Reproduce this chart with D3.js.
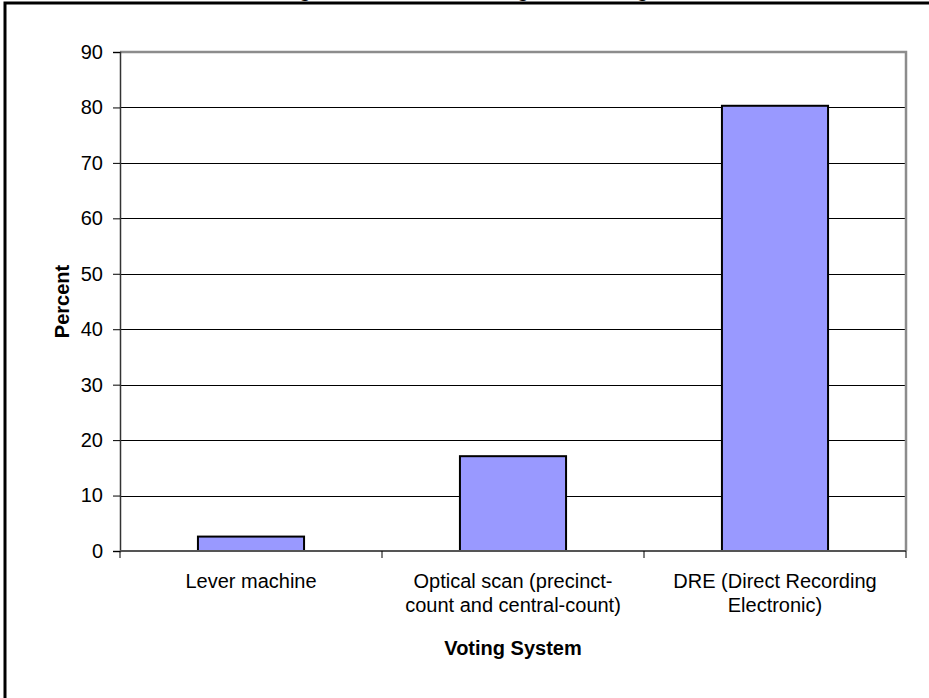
<!DOCTYPE html>
<html>
<head>
<meta charset="utf-8">
<script src="https://cdn.jsdelivr.net/npm/d3@7"></script>
<style>
  html, body { margin: 0; padding: 0; background: #fff; overflow: hidden; }
  svg { display: block; font-family: "Liberation Sans", Arial, sans-serif; }
</style>
</head>
<body>
<svg id="chart" width="929" height="698"></svg>
<script>
// Share of ballots by voting system (percent)
const categories = [
  ["Lever machine"],
  ["Optical scan (precinct-", "count and central-count)"],
  ["DRE (Direct Recording", "Electronic)"]
];
const values = [2.6, 17.1, 80.3];
const yTicks = [0, 10, 20, 30, 40, 50, 60, 70, 80, 90];
const titleText = "Percentage of Ballots Cast Using Each Voting Method";
const xTitle = "Voting System";
const yTitle = "Percent";

const svg = d3.select("#chart");
const W = 929, H = 698;
const plot = { left: 120, right: 906, top: 52, bottom: 551 };
const FONT = 20;

// outer frame (extends past the bottom and right edges)
svg.append("rect")
  .attr("x", 5).attr("y", 3)
  .attr("width", W + 20).attr("height", H + 20)
  .attr("fill", "#fff").attr("stroke", "#000").attr("stroke-width", 3);

// chart title, sitting above the frame
svg.append("text")
  .attr("x", 470).attr("y", -3)
  .attr("text-anchor", "middle")
  .attr("font-size", FONT).attr("font-weight", "bold")
  .text(titleText);

const x = d3.scaleBand()
  .domain(d3.range(categories.length))
  .range([plot.left, plot.right])
  .paddingInner(0.595).paddingOuter(0.2975);

const band = d3.scaleBand()
  .domain(d3.range(categories.length))
  .range([plot.left, plot.right]);

const y = d3.scaleLinear().domain([0, 90]).range([plot.bottom, plot.top]);

// gridlines
svg.append("g").selectAll("line")
  .data(yTicks.filter(t => t > 0 && t < 90))
  .join("line")
  .attr("x1", plot.left).attr("x2", plot.right)
  .attr("y1", d => Math.round(y(d)) + 0.5).attr("y2", d => Math.round(y(d)) + 0.5)
  .attr("stroke", "#000").attr("stroke-width", 1);

// plot border, top and right
svg.append("path")
  .attr("d", `M${plot.left},${y(90)}H${plot.right}V${plot.bottom}`)
  .attr("fill", "none").attr("stroke", "#8c8c8c").attr("stroke-width", 2.5);

// bars
svg.append("g").selectAll("rect")
  .data(values)
  .join("rect")
  .attr("x", (d, i) => x(i))
  .attr("y", d => y(d))
  .attr("width", x.bandwidth())
  .attr("height", d => y(0) - y(d))
  .attr("fill", "#9999ff")
  .attr("stroke", "#000").attr("stroke-width", 2);

// y axis
const yAxis = svg.append("g")
  .attr("transform", `translate(${plot.left},0)`)
  .call(d3.axisLeft(y).tickValues(yTicks).tickSize(7).tickPadding(10));
yAxis.select(".domain").attr("stroke", "#333").attr("stroke-width", 1.5);
yAxis.selectAll(".tick line").attr("stroke", "#000");
yAxis.selectAll(".tick text")
  .attr("font-size", FONT).attr("fill", "#000")
  .attr("font-family", "Liberation Sans, Arial, sans-serif");

// x axis line and category separators
svg.append("line")
  .attr("x1", plot.left).attr("x2", plot.right)
  .attr("y1", plot.bottom).attr("y2", plot.bottom)
  .attr("stroke", "#555").attr("stroke-width", 2);
svg.append("g").selectAll("line")
  .data(d3.range(categories.length + 1))
  .join("line")
  .attr("x1", i => i < categories.length ? band(i) : plot.right)
  .attr("x2", i => i < categories.length ? band(i) : plot.right)
  .attr("y1", plot.bottom).attr("y2", plot.bottom + 7)
  .attr("stroke", "#000").attr("stroke-width", 1);

// category labels
const labels = svg.append("g").selectAll("text")
  .data(categories)
  .join("text")
  .attr("x", (d, i) => band(i) + band.bandwidth() / 2)
  .attr("y", 588)
  .attr("text-anchor", "middle")
  .attr("font-size", FONT);
labels.selectAll("tspan")
  .data(d => d)
  .join("tspan")
  .attr("x", function () { return this.parentNode.getAttribute("x"); })
  .attr("dy", (d, i) => i === 0 ? 0 : 24)
  .text(d => d);

// axis titles
svg.append("text")
  .attr("x", (plot.left + plot.right) / 2).attr("y", 655)
  .attr("text-anchor", "middle")
  .attr("font-size", FONT).attr("font-weight", "bold")
  .text(xTitle);

svg.append("text")
  .attr("transform", `translate(69,${(plot.top + plot.bottom) / 2}) rotate(-90)`)
  .attr("text-anchor", "middle")
  .attr("font-size", FONT).attr("font-weight", "bold")
  .text(yTitle);
</script>
</body>
</html>
